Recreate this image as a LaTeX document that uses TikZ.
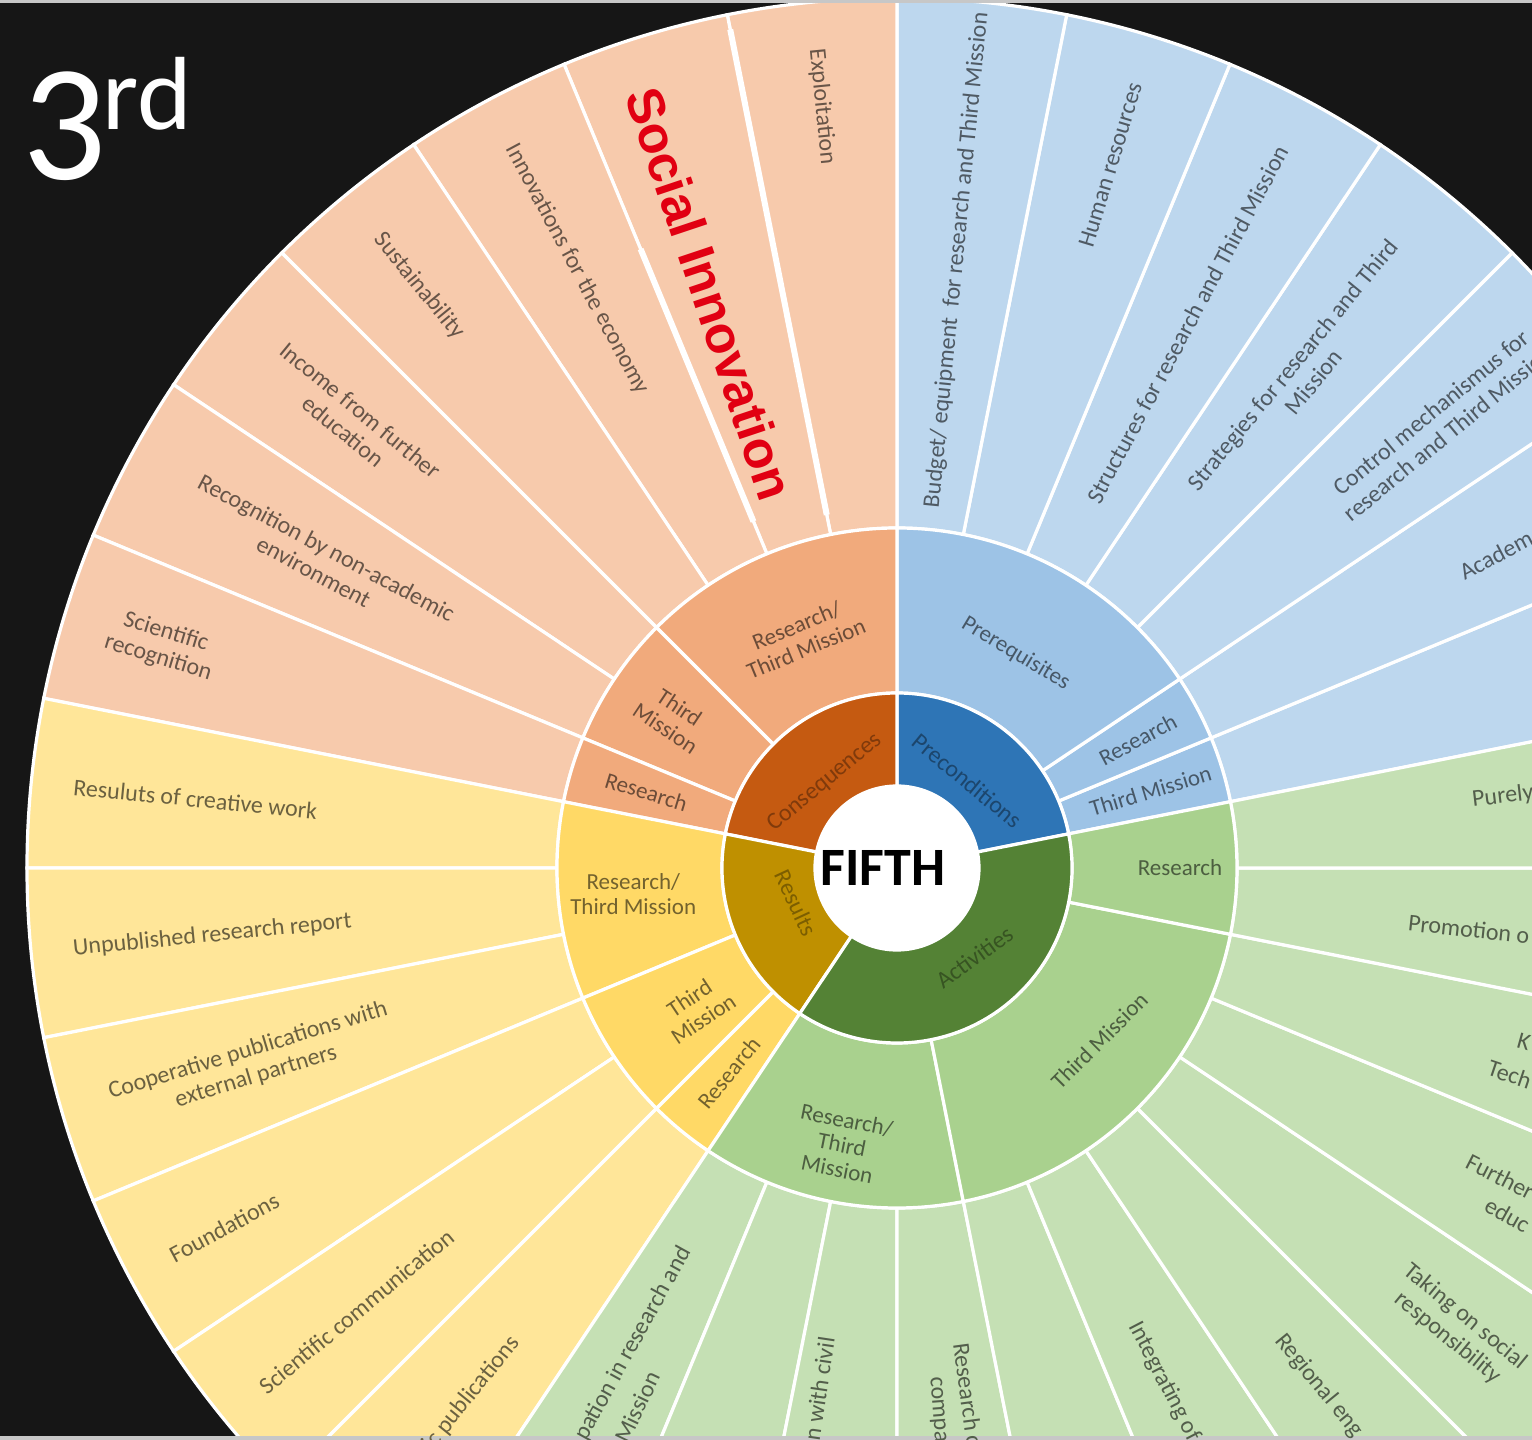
\documentclass[tikz,border=0pt]{standalone}
\usepackage{fontspec}
\setmainfont{Carlito}
\newfontfamily\redfont{Liberation Sans}

\definecolor{bgblack}{RGB}{22,22,22}
\definecolor{orgcore}{RGB}{197,90,17}
\definecolor{orgmid}{RGB}{241,170,124}
\definecolor{orgleaf}{RGB}{247,202,172}
\definecolor{bluecore}{RGB}{46,117,182}
\definecolor{bluemid}{RGB}{157,195,230}
\definecolor{blueleaf}{RGB}{189,215,238}
\definecolor{yelcore}{RGB}{191,144,0}
\definecolor{yelmid}{RGB}{255,217,102}
\definecolor{yelleaf}{RGB}{255,230,153}
\definecolor{grncore}{RGB}{84,130,53}
\definecolor{grnmid}{RGB}{169,209,142}
\definecolor{grnleaf}{RGB}{197,224,180}
\definecolor{sired}{RGB}{225,0,18}
\colorlet{orgtxt}{black!58!orgleaf}
\colorlet{bluetxt}{black!58!blueleaf}
\colorlet{yeltxt}{black!58!yelleaf}
\colorlet{grntxt}{black!58!grnleaf}
\colorlet{orgmtxt}{black!55!orgmid}
\colorlet{bluemtxt}{black!55!bluemid}
\colorlet{yelmtxt}{black!55!yelmid}
\colorlet{grnmtxt}{black!55!grnmid}

\tikzset{
  segline/.style={draw=white, line width=1.6pt},
  hiline/.style={draw=white, line width=3pt},
  leaflbl/.style={font=\fontsize{12}{13.5}\selectfont, align=center, inner sep=0pt},
  midlbl/.style={font=\fontsize{11.5}{12.5}\selectfont, align=center, inner sep=0pt},
  corelbl/.style={font=\fontsize{12}{13}\selectfont, inner sep=0pt},
}

\newcommand{\ringseg}[5]{%
  \filldraw[segline, fill=#5] (#1:#3) arc[start angle=#1, end angle=#2, radius=#3]
    -- (#2:#4) arc[start angle=#2, end angle=#1, radius=#4] -- cycle;}
\newcommand{\leaflabel}[5][]{%
  \pgfmathsetmacro{\lrot}{cos(#3)<0 ? #3-180 : #3}%
  \node[leaflbl, rotate=\lrot, #1] (#2) at (#3:#4) {#5};}

\begin{document}
\begin{tikzpicture}[x=0.5pt, y=0.5pt]

\useasboundingbox (-897,-572) rectangle (635,868);
\clip (-897,-572) rectangle (635,868);
\fill[bgblack] (-897,-572) rectangle (635,868);

\foreach \i in {1,...,7} {\pgfmathsetmacro\a{11.25*\i}\pgfmathsetmacro\b{\a+11.25}\ringseg{\a}{\b}{340}{870}{blueleaf}}
\foreach \i in {8,...,14} {\pgfmathsetmacro\a{11.25*\i}\pgfmathsetmacro\b{\a+11.25}\ringseg{\a}{\b}{340}{870}{orgleaf}}
\foreach \i in {15,...,20} {\pgfmathsetmacro\a{11.25*\i}\pgfmathsetmacro\b{\a+11.25}\ringseg{\a}{\b}{340}{870}{yelleaf}}
\foreach \i in {21,...,32} {\pgfmathsetmacro\a{11.25*\i}\pgfmathsetmacro\b{\a+11.25}\ringseg{\a}{\b}{340}{870}{grnleaf}}

\ringseg{11.25}{22.5}{175}{340}{bluemid}
\ringseg{22.5}{33.75}{175}{340}{bluemid}
\ringseg{33.75}{90}{175}{340}{bluemid}
\ringseg{90}{135}{175}{340}{orgmid}
\ringseg{135}{157.5}{175}{340}{orgmid}
\ringseg{157.5}{168.75}{175}{340}{orgmid}
\ringseg{168.75}{202.5}{175}{340}{yelmid}
\ringseg{202.5}{225}{175}{340}{yelmid}
\ringseg{225}{236.25}{175}{340}{yelmid}
\ringseg{236.25}{281.25}{175}{340}{grnmid}
\ringseg{281.25}{348.75}{175}{340}{grnmid}
\ringseg{348.75}{371.25}{175}{340}{grnmid}

\ringseg{11.25}{90}{82}{175}{bluecore}
\ringseg{90}{168.75}{82}{175}{orgcore}
\ringseg{168.75}{236.25}{82}{175}{yelcore}
\ringseg{236.25}{371.25}{82}{175}{grncore}
\fill[white] (0,0) circle[radius=82];

\draw[hiline] (101.25:360) -- (101.25:855);
\draw[hiline] (112.5:375) -- (112.5:670);

\fill[black!22] (-897,865) rectangle (635,868);
\fill[black!22] (-897,-572) rectangle (635,-568);

\node[font=\fontsize{83}{90}\selectfont, text=white, anchor=base west, inner sep=0pt] (three) at (-875,688) {3};
\node[font=\fontsize{52}{60}\selectfont, text=white, anchor=base west, inner sep=0pt] (rd) at (-795,738) {rd};

\node[font=\bfseries\fontsize{27}{30}\selectfont] (fifth) at (-14,0) {FIFTH};
\node[corelbl, text=black!35!orgcore, rotate=39.4] (cons) at (130:112) {Consequences};
\node[corelbl, text=black!40!bluecore, rotate=-39.4] (prec) at (51:112) {Preconditions};
\node[corelbl, text=black!35!yelcore, rotate=-65] (resu) at (199:107) {Results};
\node[corelbl, text=black!35!grncore, rotate=36] (acti) at (311:118) {Activities};

\node[midlbl, text=orgmtxt, rotate=22.5] (mconsrt) at (112.5:250) {Research/\\Third Mission};
\node[midlbl, text=orgmtxt, rotate=-33.75] (mconstm) at (146.25:270) {Third\\Mission};
\node[midlbl, text=orgmtxt, rotate=-16.9] (mconsr) at (163.1:262) {Research};
\node[midlbl, text=yelmtxt] (mresrt) at (185.6:265) {Research/\\Third Mission};
\node[midlbl, text=yelmtxt, rotate=33.75] (mrestm) at (215:245) {Third\\Mission};
\node[midlbl, text=yelmtxt, rotate=50.6] (mresr) at (230.6:265) {Research};
\node[midlbl, text=grnmtxt, rotate=-11.25] (mactrt) at (258.75:282) {Research/\\Third\\Mission};
\node[midlbl, text=grnmtxt, rotate=45] (mactm) at (319.5:266) {Third Mission};
\node[midlbl, text=grnmtxt] (mactr) at (0:283) {Research};
\node[midlbl, text=bluemtxt, rotate=16.9] (mprectm) at (16.9:265) {Third Mission};
\node[midlbl, text=bluemtxt, rotate=28.1] (mprecr) at (28.1:273) {Research};
\node[midlbl, text=bluemtxt, rotate=-31] (mprereq) at (61:245) {Prerequisites};

\leaflabel[text=bluetxt, anchor=west]{lacad}{27.6}{636}{Academ}
\leaflabel[text=bluetxt]{lctrl}{39.375}{702}{Control mechanismus for\\research and Third Mission}
\leaflabel[text=bluetxt]{lstrat}{50.625}{640}{Strategies for research and Third\\Mission}
\leaflabel[text=bluetxt]{lstruc}{61.875}{616}{Structures for research and Third Mission}
\leaflabel[text=bluetxt]{lhum}{73.125}{735}{Human resources}
\leaflabel[text=bluetxt]{lbudg}{84.375}{611}{Budget/ equipment~ for research and Third Mission}

\leaflabel[text=orgtxt]{lexpl}{95.625}{765}{Exploitation}
\leaflabel[text=orgtxt]{linno}{118.125}{679}{Innovations for the economy}
\leaflabel[text=orgtxt]{lsust}{129.375}{753}{Sustainability}
\leaflabel[text=orgtxt]{linco}{140.625}{705}{Income from further\\education}
\leaflabel[text=orgtxt]{lrecog}{151.875}{654}{Recognition by non-academic\\environment}
\leaflabel[text=orgtxt]{lscirec}{163.125}{768}{Scientific\\recognition}

\leaflabel[text=yeltxt]{lcreat}{174.375}{705}{Resuluts of creative work}
\leaflabel[text=yeltxt]{lunpub}{185.625}{688}{Unpublished research report}
\leaflabel[text=yeltxt]{lcoop}{196.875}{674}{Cooperative publications with\\external partners}
\leaflabel[text=yeltxt]{lfound}{208.125}{763}{Foundations}
\leaflabel[text=yeltxt]{lscicom}{219.375}{699}{Scientific communication}
\leaflabel[text=yeltxt, anchor=east]{lpubl}{231}{606}{ic publications}

\leaflabel[text=grntxt, anchor=east]{lpart}{241}{435}{pation in research and}
\leaflabel[text=grntxt, anchor=east]{lpartb}{244.3}{560}{Mission}
\leaflabel[text=grntxt, anchor=east]{lcivil}{261.5}{474}{n with civil}
\leaflabel[text=grntxt, anchor=west]{lcomp}{277.7}{479}{Research c}
\leaflabel[text=grntxt, anchor=west]{lcompb}{274.2}{510}{compa}
\leaflabel[text=grntxt, anchor=west]{linteg}{297.5}{513}{Integrating of}
\leaflabel[text=grntxt, anchor=west]{lregio}{309.2}{605}{Regional eng}
\leaflabel[text=grntxt]{ltake}{320.625}{724}{Taking on social\\responsibility}
\leaflabel[text=grntxt, anchor=west]{lfurth}{332.9}{641}{Further}
\leaflabel[text=grntxt, anchor=west]{lfurthb}{330.4}{678}{educ}
\leaflabel[text=grntxt, anchor=west]{lknow}{344.5}{644}{K}
\leaflabel[text=grntxt, anchor=west]{lknowb}{341.4}{624}{Tech}
\leaflabel[text=grntxt, anchor=west]{lpromo}{353.9}{514}{Promotion o}
\leaflabel[text=grntxt, anchor=west]{lpurely}{6.7}{579}{Purely}

\node[font=\redfont\bfseries\fontsize{26}{30}\selectfont, text=sired, rotate=-71.5] (socinno) at (108:604) {Social Innovation};
\end{tikzpicture}
\end{document}
